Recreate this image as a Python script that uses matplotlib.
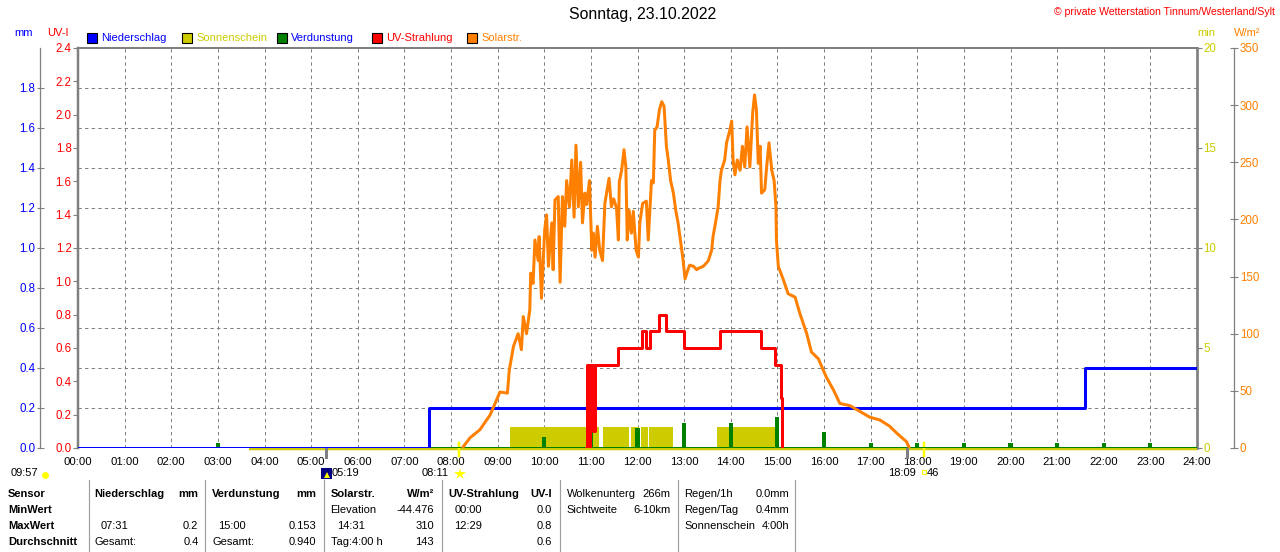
import matplotlib.pyplot as plt
import matplotlib.transforms as mtransforms
from matplotlib.lines import Line2D
from matplotlib.patches import Rectangle, Wedge

plt.rcParams['font.family'] = ['Liberation Sans', 'DejaVu Sans']
plt.rcParams['font.size'] = 8

# ---- data ----
hours = list(range(25))
hour_labels = ["%02d:00" % h for h in hours]

rain_t = [0, 7.52, 21.6, 24]
rain_mm = [0.0, 0.2, 0.4, 0.4]

evap_t = [3, 10, 11, 12, 13, 14, 15, 16, 17, 18, 19, 20, 21, 22, 23]
evap_mm = [0.025, 0.053, 0.10, 0.10, 0.127, 0.127, 0.153, 0.08, 0.027,
           0.027, 0.025, 0.025, 0.025, 0.025, 0.025]

sun_start = [9.26, 11.25, 11.85, 12.07, 12.25, 13.71]
sun_end = [11.18, 11.82, 12.04, 12.22, 12.77, 14.95]
sun_min = [1.05, 1.05, 1.05, 1.05, 1.05, 1.05]

uv_t = [10.90, 10.92, 10.95, 10.98, 11.01, 11.03, 11.05, 11.08, 11.58, 12.10,
        12.19, 12.26, 12.47, 12.61, 13.00, 13.77, 14.65, 14.95, 15.07, 15.10]
uv_i = [0.0, 0.5, 0.0, 0.5, 0.2, 0.5, 0.1, 0.5, 0.6, 0.7,
        0.6, 0.7, 0.8, 0.7, 0.6, 0.7, 0.6, 0.5, 0.3, 0.0]

solar_t = [8.26, 8.41, 8.62, 8.84, 9.05, 9.21, 9.25, 9.34, 9.44, 9.51, 9.55, 9.62,
           9.69, 9.71, 9.76, 9.80, 9.87, 9.89, 9.94, 10.01, 10.05, 10.09, 10.16,
           10.19, 10.23, 10.30, 10.34, 10.39, 10.44, 10.48, 10.54, 10.59, 10.64,
           10.68, 10.73, 10.78, 10.82, 10.87, 10.91, 10.97, 11.02, 11.05, 11.09,
           11.14, 11.19, 11.25, 11.30, 11.35, 11.39, 11.44, 11.49, 11.55, 11.59,
           11.61, 11.66, 11.71, 11.75, 11.78, 11.82, 11.87, 11.91, 11.97, 12.02,
           12.05, 12.11, 12.19, 12.23, 12.27, 12.30, 12.34, 12.37, 12.42, 12.47,
           12.52, 12.57, 12.62, 12.66, 12.71, 12.77, 12.82, 12.87, 12.92, 12.97,
           13.02, 13.09, 13.12, 13.20, 13.27, 13.30, 13.41, 13.48, 13.52, 13.59,
           13.62, 13.66, 13.73, 13.77, 13.80, 13.87, 13.91, 13.98, 14.02, 14.05,
           14.09, 14.14, 14.20, 14.25, 14.30, 14.35, 14.41, 14.47, 14.51, 14.55,
           14.59, 14.63, 14.66, 14.73, 14.77, 14.82, 14.88, 14.93, 14.97, 14.98,
           15.02, 15.13, 15.23, 15.38, 15.48, 15.63, 15.73, 15.88, 16.05, 16.20,
           16.34, 16.56, 16.77, 16.98, 17.20, 17.41, 17.56, 17.77, 17.82]
solar_w = [1, 9, 16, 29, 49, 48, 68, 89, 100, 86, 115, 100,
           121, 153, 144, 182, 164, 185, 131, 191, 204, 159, 197,
           156, 217, 220, 145, 220, 194, 234, 211, 252, 202,
           265, 211, 250, 197, 223, 213, 234, 173, 188, 167,
           194, 173, 164, 214, 226, 236, 211, 218, 210, 182,
           233, 243, 261, 246, 182, 208, 188, 207, 173, 167,
           197, 214, 216, 182, 211, 234, 232, 278, 281, 296,
           303, 299, 264, 252, 234, 223, 208, 197, 182, 167,
           148, 157, 160, 159, 156, 157, 159, 162, 164, 173,
           185, 194, 211, 234, 243, 252, 267, 278, 286, 252,
           239, 252, 243, 264, 246, 281, 246, 293, 309, 296,
           249, 264, 223, 226, 246, 267, 243, 234, 211, 182,
           159, 147, 135, 132, 118, 100, 84, 78, 62, 51,
           39, 37, 32, 27, 24.5, 19, 13, 5.5, 1]

sun_base_t = [3.67, 24]
gray_marks = [5.32, 17.79]
yellow_marks = [8.18, 18.15]

# ---- figure ----
W, H = 1280, 552
fig = plt.figure(figsize=(12.8, 5.52), dpi=100)
fig.patch.set_facecolor('white')


def fx(x):
    return x / W


def fy(y):
    return 1 - y / H


rect = [fx(78), fy(448), fx(1197) - fx(78), 400 / H]
GRAY = '#808080'
BLUE = '#0000FF'
YEL = '#CCCC00'
GREEN = '#008000'
RED = '#FF0000'
ORANGE = '#FF8000'
PT = 72 / 100  # points per pixel

ax_g = fig.add_axes(rect, zorder=0)
ax_min = fig.add_axes(rect, zorder=1)
ax_mm = fig.add_axes(rect, zorder=2)
ax_uv = fig.add_axes(rect, zorder=3)
ax_w = fig.add_axes(rect, zorder=4)

for a in (ax_g, ax_min, ax_mm, ax_uv, ax_w):
    a.set_facecolor('none')
    a.set_xlim(0, 24)
    for s in a.spines.values():
        s.set_visible(False)
    a.tick_params(left=False, right=False, bottom=False, top=False,
                  labelleft=False, labelright=False, labelbottom=False)

# grid axes (mm scale for horizontal lines)
ax_g.set_ylim(0, 2.0)
ax_g.set_yticks([0.2 * i for i in range(1, 10)])
ax_g.set_xticks(hours)
ax_g.set_xticklabels(hour_labels)
ax_g.tick_params(bottom=True, labelbottom=True, length=0, pad=6.5, labelsize=8.2)
ax_g.grid(True, color=GRAY, linestyle=(0, (3.3, 3.3)), linewidth=0.72)
for side, lw in (('left', 2.5), ('top', 2.0), ('right', 2.7)):
    ax_g.spines[side].set_visible(True)
    ax_g.spines[side].set_color(GRAY)
    ax_g.spines[side].set_linewidth(lw * PT)

# sunshine (min)
ax_min.set_ylim(0, 20)
ax_min.bar(sun_start, sun_min, width=[e - s for s, e in zip(sun_start, sun_end)],
           align='edge', color=YEL, linewidth=0)
ax_min.plot(sun_base_t, [-0.07, -0.07], color=YEL, lw=2.5 * PT, clip_on=False,
            solid_capstyle='butt')
ax_min.set_yticks([0, 5, 10, 15, 20])
ax_min.set_yticklabels(['0', '5', '10', '15', '20'])
ax_min.tick_params(right=True, labelright=True, direction='out', length=5 * PT,
                   color=GRAY, labelcolor=YEL, pad=1, labelsize=8.3)

# precipitation / evaporation (mm)
ax_mm.set_ylim(0, 2.0)
ax_mm.plot([0, 24], [0, 0], color=GREEN, lw=2 * PT, solid_capstyle='butt')
ax_mm.bar(evap_t, evap_mm, width=0.09, color=GREEN, linewidth=0)
ax_mm.plot(rain_t, rain_mm, drawstyle='steps-post', color=BLUE, lw=3 * PT)
ax_mm.spines['left'].set_visible(True)
ax_mm.spines['left'].set_position(('outward', 37.7 * PT))
ax_mm.spines['left'].set_color(GRAY)
ax_mm.spines['left'].set_linewidth(1.3 * PT)
ax_mm.set_yticks([0.2 * i for i in range(10)])
ax_mm.set_yticklabels(['%.1f' % (0.2 * i) for i in range(10)])
ax_mm.tick_params(left=True, labelleft=True, direction='inout', length=7 * PT,
                  color=GRAY, labelcolor=BLUE, pad=1, labelsize=8.3)

# UV index
ax_uv.set_ylim(0, 2.4)
ax_uv.plot(uv_t, uv_i, drawstyle='steps-post', color=RED, lw=3 * PT)
ax_uv.set_yticks([0.2 * i for i in range(13)])
ax_uv.set_yticklabels(['%.1f' % (0.2 * i) for i in range(13)])
ax_uv.tick_params(left=True, labelleft=True, direction='out', length=5 * PT,
                  color=GRAY, labelcolor=RED, pad=1, labelsize=8.3)

# solar radiation
ax_w.set_ylim(0, 350)
ax_w.plot(solar_t, solar_w, color=ORANGE, lw=3 * PT)
ax_w.spines['right'].set_visible(True)
ax_w.spines['right'].set_position(('outward', 37.3 * PT))
ax_w.spines['right'].set_color(GRAY)
ax_w.spines['right'].set_linewidth(1.3 * PT)
ax_w.set_yticks(list(range(0, 351, 50)))
ax_w.set_yticklabels([str(v) for v in range(0, 351, 50)])
ax_w.tick_params(right=True, labelright=True, direction='inout', length=8 * PT,
                 color=GRAY, labelcolor=ORANGE, pad=1, labelsize=8.3)

# sunrise / moon marks below axis
bt = mtransforms.blended_transform_factory(ax_g.transData, fig.transFigure)
for t in gray_marks:
    fig.add_artist(Line2D([t, t], [fy(449), fy(457)], transform=bt, color=GRAY, lw=3 * PT))
for t in yellow_marks:
    fig.add_artist(Line2D([t, t], [fy(443), fy(456)], transform=bt, color='#FFFF00', lw=2.5 * PT))

# titles and units
fig.text(fx(643), fy(15), 'Sonntag, 23.10.2022', ha='center', va='center', fontsize=11.4)
fig.text(fx(1275), fy(12), '© private Wetterstation Tinnum/Westerland/Sylt',
         ha='right', va='center', color=RED, fontsize=7.6)
fig.text(fx(14), fy(33), 'mm', color=BLUE, va='center', fontsize=8)
fig.text(fx(47), fy(33), 'UV-I', color=RED, va='center', fontsize=8)
fig.text(fx(1197), fy(33), 'min', color=YEL, va='center', fontsize=8)
fig.text(fx(1234), fy(33), 'W/m²', color=ORANGE, va='center', fontsize=8)

# legend
legend = [(87, 101, 'Niederschlag', BLUE, BLUE), (182, 196, 'Sonnenschein', YEL, YEL),
          (277, 291, 'Verdunstung', GREEN, BLUE), (372, 386, 'UV-Strahlung', RED, RED),
          (467, 481, 'Solarstr.', ORANGE, ORANGE)]
for sx, tx, name, fc, tc in legend:
    fig.add_artist(Rectangle((fx(sx), fy(43)), 10 / W, 10 / H, transform=fig.transFigure,
                             facecolor=fc, edgecolor='black', lw=0.8))
    fig.text(fx(tx), fy(38), name, color=tc, va='center', fontsize=8)

# sun / moon annotations
fig.text(fx(11), fy(473), '09:57', va='center', fontsize=8)
fig.add_artist(Line2D([fx(45)], [fy(475)], transform=fig.transFigure, marker=(20, 0, 0),
                      markersize=5, color='#FFFF00', markeredgewidth=0))
fig.add_artist(Rectangle((fx(321), fy(479)), 11 / W, 11 / H, transform=fig.transFigure,
                         facecolor='#000080', edgecolor='none'))
fig.add_artist(Line2D([fx(327)], [fy(475)], transform=fig.transFigure, marker='^',
                      markersize=4, color='#FFFF00', markeredgewidth=0))
fig.text(fx(332), fy(473), '05:19', va='center', fontsize=8)
fig.text(fx(449), fy(473), '08:11', va='center', ha='right', fontsize=8)
fig.add_artist(Line2D([fx(460)], [fy(474)], transform=fig.transFigure, marker='*',
                      markersize=9, color='#FFFF00', markeredgewidth=0))
fig.text(fx(916), fy(473), '18:09', va='center', ha='right', fontsize=8)
fig.add_artist(Line2D([fx(923.7)], [fy(472)], transform=fig.transFigure, marker='s',
                      markersize=3.5, markerfacecolor='none', markeredgecolor='#FFFF00',
                      markeredgewidth=0.8))
fig.text(fx(927), fy(473), '46', va='center', fontsize=8)

# summary table
row_y = [494, 510, 526, 542]
for x in [88.6, 205, 323.7, 442, 560, 677.7, 794.7]:
    fig.add_artist(Line2D([fx(x), fx(x)], [fy(480), fy(552)], transform=fig.transFigure,
                          color='#A0A0A0', lw=1.2 * PT))

first_col = ['Sensor', 'MinWert', 'MaxWert', 'Durchschnitt']
for y, s in zip(row_y, first_col):
    fig.text(fx(8), fy(y), s, va='center', fontweight='bold', fontsize=8)

# (left x, text, right x, value, row, bold)
cells = [
    (94.7, 'Niederschlag', 198.4, 'mm', 0, True),
    (100.4, '07:31', 198.4, '0.2', 2, False),
    (94.7, 'Gesamt:', 198.4, '0.4', 3, False),
    (212.2, 'Verdunstung', 316.3, 'mm', 0, True),
    (218.4, '15:00', 316.3, '0.153', 2, False),
    (212.2, 'Gesamt:', 316.3, '0.940', 3, False),
    (330.6, 'Solarstr.', 433.9, 'W/m²', 0, True),
    (330.6, 'Elevation', 433.9, '-44.476', 1, False),
    (336.7, '14:31', 433.9, '310', 2, False),
    (330.6, 'Tag:4:00 h', 433.9, '143', 3, False),
    (448.2, 'UV-Strahlung', 551.8, 'UV-I', 0, True),
    (454.3, '00:00', 551.8, '0.0', 1, False),
    (454.3, '12:29', 551.8, '0.8', 2, False),
    (454.3, '', 551.8, '0.6', 3, False),
    (566.7, 'Wolkenunterg', 670.2, '266m', 0, False),
    (566.7, 'Sichtweite', 670.2, '6-10km', 1, False),
    (684.3, 'Regen/1h', 789.0, '0.0mm', 0, False),
    (684.3, 'Regen/Tag', 789.0, '0.4mm', 1, False),
    (684.3, 'Sonnenschein', 789.0, '4:00h', 2, False),
]
for lx, lt, rx, rt, r, bold in cells:
    w = 'bold' if bold else 'normal'
    fig.text(fx(lx), fy(row_y[r]), lt, va='center', fontweight=w, fontsize=8)
    fig.text(fx(rx), fy(row_y[r]), rt, va='center', ha='right', fontweight=w, fontsize=8)

fig.savefig('out.png', dpi=100)
